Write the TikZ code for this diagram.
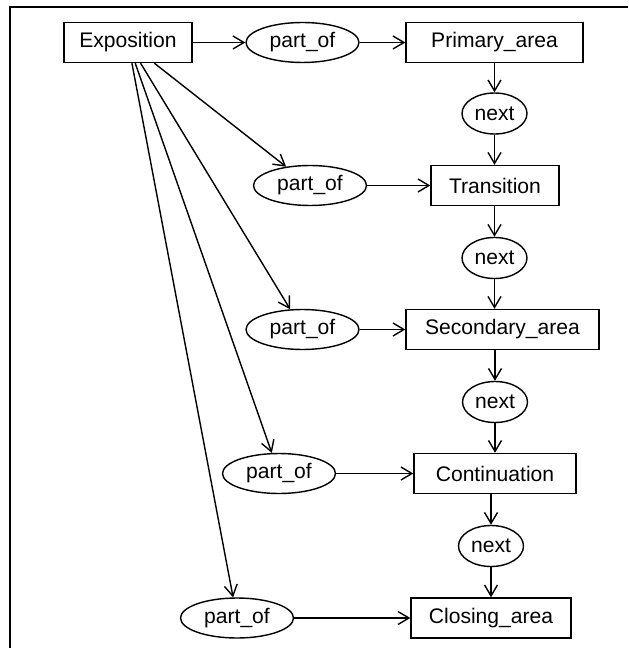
\documentclass[tikz,border=0pt]{standalone}
\usepackage{fontspec}
\setmainfont{Liberation Sans}
\usetikzlibrary{shapes.geometric,arrows.meta}

\begin{document}
\begin{tikzpicture}[x=0.02cm,y=-0.02cm,
  line width=0.8pt,
  every node/.style={font=\fontsize{12}{14}\selectfont, inner sep=0pt},
  box/.style={draw, rectangle, minimum height=0.8cm},
  rel/.style={draw, ellipse, minimum width=2.26cm, minimum height=0.8cm},
  nxt/.style={draw, ellipse, minimum width=1.3cm, minimum height=0.82cm},
  edge/.style={-{Straight Barb[length=0.22cm,width=0.26cm]}}]
\useasboundingbox (0,0) rectangle (628,648);
\draw (10,648) -- (10,7) -- (628,7);
\node [box, minimum width=2.56cm] (expo) at (128,42.5) {Exposition};
\node [rel] (po1) at (302.5,42.5) {part\_of};
\node [box, minimum width=3.54cm] (prim) at (494.5,42.5) {Primary\_area};
\node [nxt] (next1) at (494.5,113.5) {next};
\node [rel] (po2) at (310,185.5) {part\_of};
\node [box, minimum width=2.56cm] (trans) at (495,185.5) {Transition};
\node [nxt] (next2) at (494.5,258) {next};
\node [rel] (po3) at (302.5,329.5) {part\_of};
\node [box, minimum width=3.86cm] (sec) at (502.5,329.5) {Secondary\_area};
\node [nxt] (next3) at (495,402) {next};
\node [rel] (po4) at (279,473.5) {part\_of};
\node [box, minimum width=3.24cm] (cont) at (495,473.5) {Continuation};
\node [nxt] (next4) at (491,546) {next};
\node [rel] (po5) at (237,618) {part\_of};
\node [box, minimum width=3.2cm] (close) at (491,618) {Closing\_area};
\draw [edge] (expo) -- (po1);
\draw [edge] (expo) -- (po2);
\draw [edge] (expo) -- (po3);
\draw [edge] (expo) -- (po4);
\draw [edge] (expo) -- (po5);
\draw [edge] (po1) -- (prim);
\draw [edge] (po2) -- (trans);
\draw [edge] (po3) -- (sec);
\draw [edge] (po4) -- (cont);
\draw [edge] (po5) -- (close);
\draw [edge] (prim.south -| next1) -- (next1);
\draw [edge] (next1) -- (next1 |- trans.north);
\draw [edge] (trans.south -| next2) -- (next2);
\draw [edge] (next2) -- (next2 |- sec.north);
\draw [edge] (sec.south -| next3) -- (next3);
\draw [edge] (next3) -- (next3 |- cont.north);
\draw [edge] (cont.south -| next4) -- (next4);
\draw [edge] (next4) -- (next4 |- close.north);
\end{tikzpicture}
\end{document}
